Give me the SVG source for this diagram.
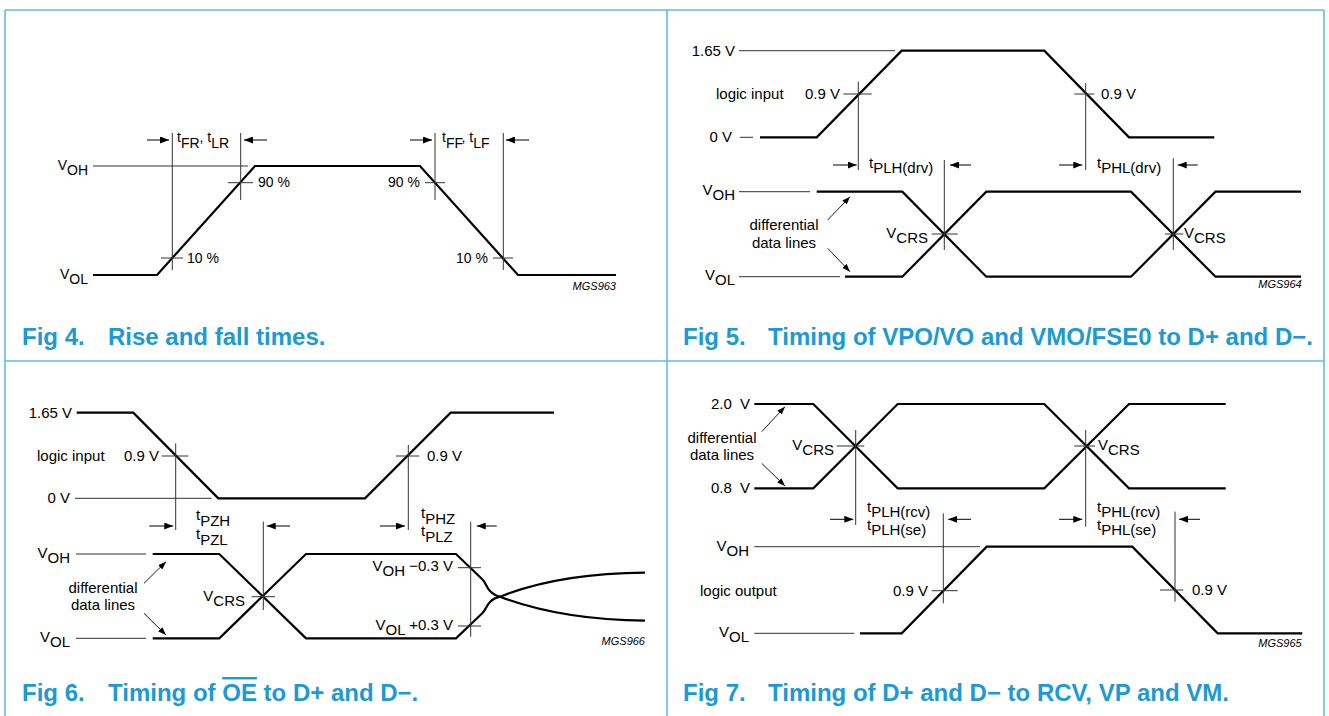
<svg xmlns="http://www.w3.org/2000/svg" width="1329" height="716" viewBox="0 0 1329 716">
<defs>
<marker id="ah" markerWidth="9" markerHeight="7" refX="9" refY="3.5" orient="auto" markerUnits="userSpaceOnUse"><path d="M0,0 L9,3.5 L0,7 z" fill="#000"/></marker>
<marker id="ah2" markerWidth="8" markerHeight="6" refX="8" refY="3" orient="auto" markerUnits="userSpaceOnUse"><path d="M0,0 L8,3 L0,6 z" fill="#000"/></marker>
</defs>
<style>
.bd{stroke:#62bde0;stroke-width:1.6;fill:none}
.sig{stroke:#000;stroke-width:2.2;fill:none;stroke-linejoin:miter}
.th{stroke:#333;stroke-width:1;fill:none}
.ar{stroke:#000;stroke-width:1;fill:none;marker-end:url(#ah)}
.ad{stroke:#000;stroke-width:0.9;fill:none;marker-end:url(#ah2)}
text{font-family:"Liberation Sans",Arial,sans-serif;fill:#000}
.f4{font-size:14px}
.f{font-size:15px}
.e{text-anchor:end}
.m{text-anchor:middle}
.code{font-size:11px;font-style:italic;text-anchor:end}
.cap{font-size:24px;font-weight:bold;fill:#1c9ad3}
</style>
<rect width="1329" height="716" fill="#fff"/>
<g id="borders">
<path class="bd" d="M5,10 H1324 M5,10 V716 M667,10 V716 M1324,10 V716 M5,361 H1324"/>
</g>

<g id="fig4">
<g id="fig4-wave">
<path class="sig" d="M93,275 H157 L255,166 H420 L518,275 H616"/>
<path class="th" d="M93,166 H248"/>
</g>
<g id="fig4-markers">
<path class="th" d="M172.3,133 V270 M240.7,133 V200 M435,133 V200 M503.3,133 V270"/>
<path class="th" d="M161,258 H183 M228,182.7 H253 M425,182.7 H445 M493,258 H513"/>
<path class="ar" d="M147,140 H169"/>
<path class="ar" d="M267,140 H244"/>
<path class="ar" d="M410,140 H432"/>
<path class="ar" d="M529,140 H506"/>
</g>
<g id="fig4-labels" class="f4">
<text class="e" x="88" y="170">V<tspan dy="5">OH</tspan></text>
<text class="e" x="88" y="279">V<tspan dy="5">OL</tspan></text>
<text x="258" y="187">90 %</text>
<text x="187" y="263">10 %</text>
<text class="e" x="420" y="187">90 %</text>
<text class="e" x="488" y="263">10 %</text>
<text x="177" y="142">t<tspan dy="5.5">FR</tspan><tspan dy="-5.5">, t</tspan><tspan dy="5.5">LR</tspan></text>
<text x="442" y="142">t<tspan dy="5.5">FF</tspan><tspan dy="-5.5">, t</tspan><tspan dy="5.5">LF</tspan></text>
<text class="code" x="616" y="290">MGS963</text>
</g>
<g id="fig4-caption">
<text class="cap" x="22" y="345">Fig 4.</text>
<text class="cap" x="108" y="345">Rise and fall times.</text>
</g>
</g>

<g id="fig5">
<g id="fig5-wave">
<path class="sig" d="M760,137.3 H816.7 L901.7,50.7 H1044.3 L1129,137.3 H1214.3"/>
<path class="sig" d="M816.7,191.7 H902.3 L986.3,276.7 H1131 L1215.5,191.7 H1301"/>
<path class="sig" d="M845,276.7 H902.3 L986.3,191.7 H1131 L1215.5,276.7 H1301"/>
<path class="th" d="M739,50.7 H895 M740,137.3 H753 M739,191.7 H810 M739,276.7 H840"/>
</g>
<g id="fig5-markers">
<path class="th" d="M858.3,81.7 V170 M1085.7,83.3 V170 M944.3,160 V250 M1173.3,158.3 V250"/>
<path class="th" d="M843.3,94 H871.7 M1074.3,94 H1094.3 M931.7,234 H957.7 M1165,234 H1183.3"/>
<path class="ar" d="M833,165 H856.7"/>
<path class="ar" d="M971,165 H950"/>
<path class="ar" d="M1059,165 H1082.3"/>
<path class="ar" d="M1197.7,165 H1177.7"/>
<path class="ad" d="M827.7,220 L850,196.7"/>
<path class="ad" d="M827.7,248.3 L850,271.7"/>
</g>
<g id="fig5-labels" class="f">
<text class="e" x="735" y="56">1.65 V</text>
<text x="716" y="99">logic input</text>
<text class="e" x="840" y="99">0.9 V</text>
<text class="e" x="732" y="142">0 V</text>
<text x="1101" y="99">0.9 V</text>
<text x="869" y="168">t<tspan dy="5">PLH(drv)</tspan></text>
<text x="1097" y="168">t<tspan dy="5">PHL(drv)</tspan></text>
<text class="e" x="735" y="195">V<tspan dy="5">OH</tspan></text>
<text class="e" x="735" y="280">V<tspan dy="5">OL</tspan></text>
<text class="m" x="784" y="230">differential</text>
<text class="m" x="784" y="248">data lines</text>
<text class="e" x="928" y="238">V<tspan dy="5">CRS</tspan></text>
<text x="1184" y="238">V<tspan dy="5">CRS</tspan></text>
<text class="code" x="1301.7" y="288">MGS964</text>
</g>
<g id="fig5-caption">
<text class="cap" x="683" y="345">Fig 5.</text>
<text class="cap" x="768" y="345">Timing of VPO/VO and VMO/FSE0 to D+ and D−.</text>
</g>
</g>

<g id="fig6">
<g id="fig6-wave">
<path class="sig" d="M76.7,412.7 H133.3 L218.3,498.3 H365 L450.7,412.7 H554"/>
<path class="sig" d="M152.7,554 H219.3 L306,638.3 H456 L482,613.5 C486,610 486,606 490,602 C493,599 496,597.5 500,596.7 C540,581 590,573 645,572.7"/>
<path class="sig" d="M152.7,638.3 H219.3 L306,554 H456 L482,579 C486,582.5 486,587 490,591 C493,594 496,596 500,596.7 C540,612 590,620 645,620.7"/>
<path class="th" d="M75,498.3 H211.7 M76,554 H146 M76,638.3 H146"/>
</g>
<g id="fig6-markers">
<path class="th" d="M175.7,443.3 V530 M408.3,445 V530 M263.3,521.7 V610 M470.7,521.7 V636.7"/>
<path class="th" d="M161.7,456 H188.3 M396,456 H419.3 M251.7,596.7 H275 M458,567.7 H481 M458,626 H481"/>
<path class="ar" d="M149.3,526 H173.3"/>
<path class="ar" d="M290,526 H266.7"/>
<path class="ar" d="M380,526 H405"/>
<path class="ar" d="M496.7,526 H476.7"/>
<path class="ad" d="M144,583.3 L166,561.7"/>
<path class="ad" d="M144,613.3 L166,635"/>
</g>
<g id="fig6-labels" class="f">
<text class="e" x="72" y="418">1.65 V</text>
<text x="37" y="461">logic input</text>
<text class="e" x="159" y="461">0.9 V</text>
<text x="427" y="461">0.9 V</text>
<text class="e" x="70" y="503">0 V</text>
<text x="196" y="520">t<tspan dy="5.5">PZH</tspan></text>
<text x="196" y="539">t<tspan dy="5.5">PZL</tspan></text>
<text x="421" y="518">t<tspan dy="5.5">PHZ</tspan></text>
<text x="421" y="536">t<tspan dy="5.5">PLZ</tspan></text>
<text class="e" x="70" y="558">V<tspan dy="5">OH</tspan></text>
<text class="e" x="70" y="642">V<tspan dy="5">OL</tspan></text>
<text class="m" x="103" y="593">differential</text>
<text class="m" x="103" y="610">data lines</text>
<text class="e" x="245" y="601">V<tspan dy="5">CRS</tspan></text>
<text class="e" x="453" y="571">V<tspan dy="5">OH</tspan><tspan dy="-5"> −0.3 V</tspan></text>
<text class="e" x="453" y="630">V<tspan dy="5">OL</tspan><tspan dy="-5"> +0.3 V</tspan></text>
<text class="code" x="645" y="645">MGS966</text>
</g>
<g id="fig6-caption">
<text class="cap" x="22" y="701">Fig 6.</text>
<text class="cap" x="108" y="701">Timing of <tspan text-decoration="overline">OE</tspan> to D+ and D−.</text>
</g>
</g>

<g id="fig7">
<g id="fig7-wave">
<path class="sig" d="M754.3,404 H813.3 L897.7,488.3 H1044.3 L1129,404 H1225.7"/>
<path class="sig" d="M754.3,488.3 H813.3 L897.7,404 H1044.3 L1129,488.3 H1225.7"/>
<path class="sig" d="M860,633.3 H901.7 L986.7,546.7 H1132.3 L1217.7,633.3 H1302.3"/>
<path class="th" d="M754.3,546.7 H980 M754.3,633.3 H854.3"/>
</g>
<g id="fig7-markers">
<path class="th" d="M855.7,430 V525 M1085.7,430 V526.7 M943.3,513.3 V603.3 M1175,511.7 V601.7"/>
<path class="th" d="M836.7,446 H864.3 M1074.3,446 H1095 M931.7,590.7 H957.7 M1160,590 H1183.3"/>
<path class="ar" d="M830,519.3 H853.3"/>
<path class="ar" d="M971,519.3 H948.3"/>
<path class="ar" d="M1059,519.3 H1082.3"/>
<path class="ar" d="M1200,519.3 H1179"/>
<path class="ad" d="M761.7,431.7 L785,406.7"/>
<path class="ad" d="M761.7,463.3 L785,486"/>
</g>
<g id="fig7-labels" class="f">
<text class="e" x="750" y="409" word-spacing="4">2.0 V</text>
<text class="e" x="750" y="493" word-spacing="4">0.8 V</text>
<text class="m" x="722" y="443">differential</text>
<text class="m" x="722" y="460">data lines</text>
<text class="e" x="834" y="450">V<tspan dy="5">CRS</tspan></text>
<text x="1098" y="450">V<tspan dy="5">CRS</tspan></text>
<text x="867" y="512">t<tspan dy="5">PLH(rcv)</tspan></text>
<text x="867" y="530">t<tspan dy="5">PLH(se)</tspan></text>
<text x="1097" y="512">t<tspan dy="5">PHL(rcv)</tspan></text>
<text x="1097" y="530">t<tspan dy="5">PHL(se)</tspan></text>
<text class="e" x="749" y="551">V<tspan dy="5">OH</tspan></text>
<text class="e" x="749" y="637">V<tspan dy="5">OL</tspan></text>
<text x="700" y="596">logic output</text>
<text class="e" x="928" y="596">0.9 V</text>
<text x="1192" y="595">0.9 V</text>
<text class="code" x="1301.7" y="647">MGS965</text>
</g>
<g id="fig7-caption">
<text class="cap" x="683" y="701">Fig 7.</text>
<text class="cap" x="768" y="701">Timing of D+ and D− to RCV, VP and VM.</text>
</g>
</g>
</svg>
